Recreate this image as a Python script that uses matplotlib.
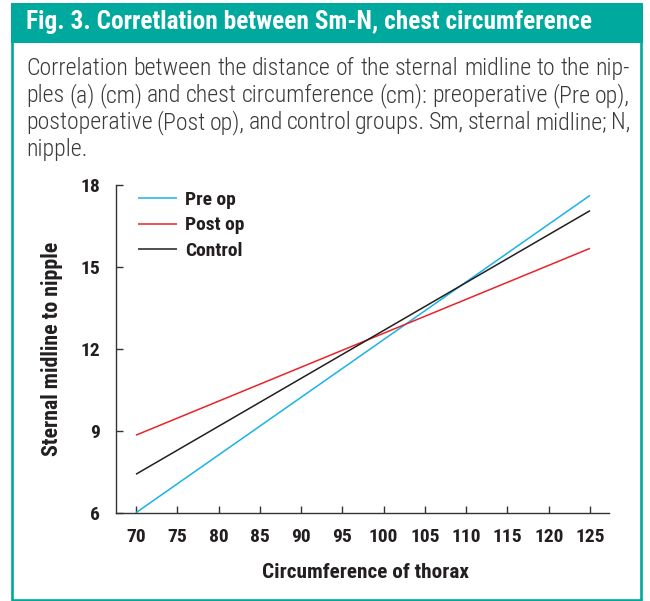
import matplotlib
matplotlib.use('Agg')
import matplotlib.pyplot as plt
from matplotlib import font_manager as fm
from matplotlib.patches import Rectangle

# ---------------- data ----------------
circumference = [70, 125]
pre_op = [6.0, 17.62]
post_op = [8.84, 15.68]
control = [7.41, 17.06]
series_labels = ['Pre op', 'Post op', 'Control']
x_ticks = [70, 75, 80, 85, 90, 95, 100, 105, 110, 115, 120, 125]
y_ticks = [6, 9, 12, 15, 18]

title = 'Fig. 3. Corretlation between Sm-N, chest circumference'
caption_lines = [
    'Correlation between the distance of the sternal midline to the nip-',
    'ples (a) (cm) and chest circumference (cm): preoperative (Pre op),',
    'postoperative (Post op), and control groups. Sm, sternal midline; N,',
    'nipple.',
]
x_label = 'Circumference of thorax'
y_label = 'Sternal midline to nipple'

# ---------------- fonts ----------------
available = {f.name for f in fm.fontManager.ttflist}


def pick(cands):
    for c in cands:
        if c in available:
            return [c, 'DejaVu Sans']
    return ['DejaVu Sans']


COND = pick(['Roboto Condensed', 'Fira Sans Condensed', 'Asap Condensed',
             'PT Sans Narrow', 'Archivo Narrow', 'Liberation Sans Narrow'])

# ---------------- style ----------------
W, H = 650, 601
TEAL = '#00a99d'
AXC = '#333333'
TXT = '#231f20'
colors = ['#1ab2ea', '#e8242a', '#231f20']

fig = plt.figure(figsize=(W / 100, H / 100), dpi=100)
fig.patch.set_facecolor('white')
renderer = fig.canvas.get_renderer()


def fx(px):
    return px / W


def fy(py):
    return 1 - py / H


def fit_width(t, target, vertical=False):
    bb = t.get_window_extent(renderer)
    w = bb.height if vertical else bb.width
    t.set_fontsize(t.get_fontsize() * target / w)


# frame and header bar
fig.add_artist(Rectangle((fx(11), fy(42.7)), fx(642.5) - fx(11), fy(3) - fy(42.7),
                         transform=fig.transFigure, facecolor=TEAL, edgecolor='none'))
fig.add_artist(Rectangle((fx(12.3), fy(599.5)), fx(641.2) - fx(12.3), fy(4) - fy(599.5),
                         transform=fig.transFigure, facecolor='none', edgecolor=TEAL,
                         linewidth=1.9))

t = fig.text(fx(26), fy(29.5), title, color='white', fontsize=16, fontweight='bold',
             family=COND, ha='left', va='baseline')
fit_width(t, 566)

# caption, justified
cap_left, cap_right = 26, 630
baselines = [75, 102, 129, 156]
probe = fig.text(0, 0, caption_lines[0], fontsize=15, family=COND, fontweight='light')
fit_width(probe, cap_right - cap_left)
cap_size = probe.get_fontsize()
probe.remove()
for i, line in enumerate(caption_lines):
    if i == len(caption_lines) - 1:
        fig.text(fx(cap_left), fy(baselines[i]), line, fontsize=cap_size, family=COND,
                 fontweight='light', color='#3a3a3a', ha='left', va='baseline')
        continue
    words = line.split(' ')
    objs = [fig.text(0, fy(baselines[i]), w_, fontsize=cap_size, family=COND,
                     fontweight='light', color='#3a3a3a', ha='left', va='baseline')
            for w_ in words]
    widths = [o.get_window_extent(renderer).width for o in objs]
    gap = (cap_right - cap_left - sum(widths)) / (len(words) - 1)
    xpos = cap_left
    for o, wd in zip(objs, widths):
        o.set_x(fx(xpos))
        xpos += wd + gap

# ---------------- axes ----------------
ax_left, ax_right, ax_top, ax_bottom = 115.7, 609, 185, 512.7
ax = fig.add_axes([fx(ax_left), fy(ax_bottom), fx(ax_right) - fx(ax_left),
                   fy(ax_top) - fy(ax_bottom)])
ax.set_facecolor('none')

for vals, lab, c in zip([pre_op, post_op, control], series_labels, colors):
    ax.plot(circumference, vals, color=c, linewidth=1.1, label=lab,
            solid_capstyle='butt')

ax.set_xlim(67.54, 127.3)
ax.set_ylim(6, 18)
ax.set_xticks(x_ticks)
ax.set_yticks(y_ticks)
for s in ['top', 'right']:
    ax.spines[s].set_visible(False)
for s in ['left', 'bottom']:
    ax.spines[s].set_color(AXC)
    ax.spines[s].set_linewidth(1.0)
ax.tick_params(axis='both', direction='in', length=5, width=1.0, color=AXC,
               labelcolor=TXT)
ax.tick_params(axis='y', pad=11.3)
ax.tick_params(axis='x', pad=11)
for lbl in ax.get_xticklabels() + ax.get_yticklabels():
    lbl.set_family(COND)
    lbl.set_fontsize(14)
    lbl.set_fontweight('semibold')

ax.set_xlabel(x_label, family=COND, fontweight='semibold', fontsize=14, color=TXT)
ax.set_ylabel(y_label, family=COND, fontweight='semibold', fontsize=14, color=TXT)
ax.xaxis.label.set_va('center')
ax.yaxis.label.set_va('center')
ax.xaxis.set_label_coords((365 - ax_left) / (ax_right - ax_left),
                          (ax_bottom - 572) / (ax_bottom - ax_top))
ax.yaxis.set_label_coords((52 - ax_left) / (ax_right - ax_left), 0.5)
fit_width(ax.xaxis.label, 208)
fit_width(ax.yaxis.label, 216, vertical=True)

leg = ax.legend(loc='upper left',
                bbox_to_anchor=((138 - ax_left) / (ax_right - ax_left),
                                (ax_bottom - 191) / (ax_bottom - ax_top)),
                frameon=False, borderpad=0, borderaxespad=0, handlelength=2.0,
                handletextpad=0.4, labelspacing=0.38,
                prop={'family': COND, 'weight': 'semibold', 'size': 14})
for txt in leg.get_texts():
    txt.set_color(TXT)

fig.savefig('out.png', dpi=100, facecolor='white')
